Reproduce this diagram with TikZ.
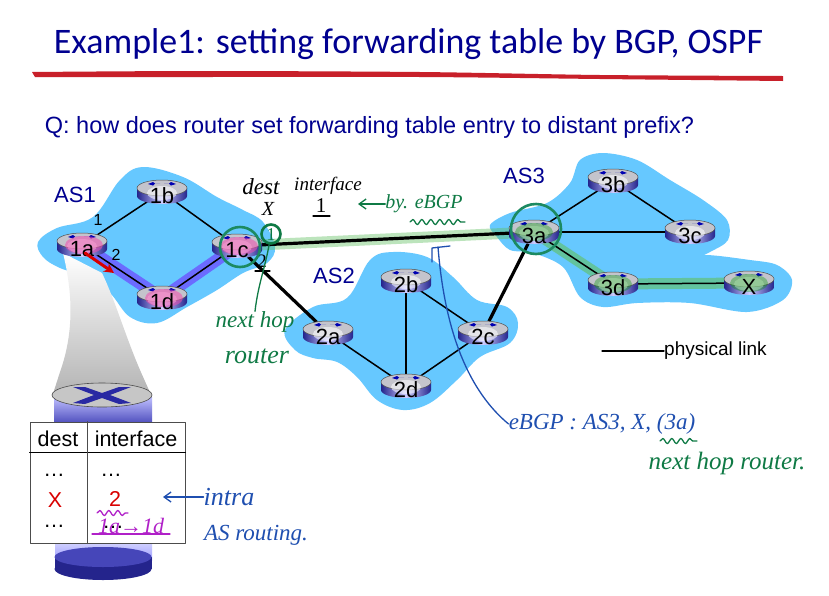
\documentclass[tikz,border=0pt]{standalone}
\usepackage{fontspec}
\setmainfont{Liberation Sans}
\newfontfamily\titlefont{Carlito}
\newfontfamily\handfont{Liberation Serif}
\usetikzlibrary{shapes.geometric,decorations.pathmorphing,arrows.meta}
\definecolor{navy}{HTML}{000090}
\definecolor{asblue}{HTML}{66C8FF}
\definecolor{hgreen}{HTML}{0F7A45}
\definecolor{hblue}{HTML}{1F4FB0}
\definecolor{hpurple}{HTML}{B020C8}
\definecolor{rdark}{HTML}{24248C}
\definecolor{ringgreen}{HTML}{1C8A62}
\definecolor{routegreen}{HTML}{60C060}
\definecolor{swoosh}{HTML}{C8202A}
\definecolor{rtop}{HTML}{C4C4CC}
\newcommand{\fs}[1]{\fontsize{#1}{#1}\selectfont}
\tikzset{
  rhit/.style={ellipse,minimum width=50pt,minimum height=24pt,inner sep=0pt},
  rlabel/.style={inner sep=0pt,font=\fs{22}},
  aslabel/.style={inner sep=0pt,text=navy,font=\fs{22}},
  thinlink/.style={draw=black,line width=1.5pt},
  thicklink/.style={draw=black,line width=3.2pt},
  hlgreen/.style={draw=routegreen,line width=11pt,draw opacity=.42},
  hlpurple/.style={draw=blue!58!white,line width=12pt},
  hand/.style={inner sep=0pt,font=\handfont\itshape\fs{23}},
  small/.style={inner sep=0pt,font=\fs{16}},
  cell/.style={inner sep=0pt,font=\fs{21.5}},
  squig/.style={decorate,decoration={snake,amplitude=2.5pt,segment length=9pt},line width=1.3pt},
  ring/.style={draw=ringgreen,line width=2.6pt},
  harrow/.style={line width=1.3pt,-{Straight Barb[length=7pt,width=10pt]}},
}
\newcommand{\rdef}[3]{\node[rhit] (#1) at (#2,#3) {};}
\newcommand{\rart}[3]{%
  \begin{scope}[shift={(#1.center)}]
    \shade[left color=rdark,right color=rdark,middle color=white!80!blue]
      (-25,-4) -- (-25,4) .. controls (-25,8.4) and (-13.8,12) .. (0,12) .. controls (13.8,12) and (25,8.4) .. (25,4) -- (25,-4) -- cycle;
    \fill[rtop,draw=gray!60!black,line width=.5pt] (0,-4) ellipse [x radius=25,y radius=8];
    \fill[white,opacity=.55] (0,1) ellipse [x radius=15,y radius=7];
    \fill[blue!70!black] (-14,-8) -- (-9,-10) -- (-7,-8.5) -- (-2,-8.5) -- (-7,-8.5) -- (-9,-6.5) -- cycle;
    \fill[blue!70!black] (14,-8) -- (9,-10) -- (7,-8.5) -- (2,-8.5) -- (7,-8.5) -- (9,-6.5) -- cycle;
    \if#3n\else
      \if#3m\fill[magenta!70!white,opacity=.55] (2,0) ellipse [x radius=19,y radius=9];\fi
      \if#3g\fill[green!60!black,opacity=.35] (0,0) ellipse [x radius=19,y radius=9];\fi
    \fi
    \node[rlabel] (#1-t) at (0,4) {#2};
  \end{scope}}
\begin{document}
\begin{tikzpicture}[x=1pt,y=-1pt,line cap=round,line join=round]
\useasboundingbox (0,0) rectangle (829,595);
\fill[white] (0,0) rectangle (829,595);

\rdef{1a}{82}{245}\rdef{1b}{162}{192}\rdef{1c}{237}{246}\rdef{1d}{162}{298}
\rdef{2a}{328}{333}\rdef{2b}{406}{281}\rdef{2c}{483}{333}\rdef{2d}{406}{386}
\rdef{3a}{534}{232}\rdef{3b}{613}{181}\rdef{3c}{690}{232}\rdef{3d}{613}{284}\rdef{X}{749}{283}

% title
\node[inner sep=0pt,text=navy,font=\titlefont\fs{35.9}] (title) at (408.5,44) {Example1: setting forwarding table by BGP, OSPF};
\fill[swoosh] plot[smooth] coordinates {(32,72) (200,71) (420,72) (600,75) (783,76)} -- plot[smooth] coordinates {(783,81) (600,79) (420,77) (200,77) (35,77)} -- cycle;
\node[inner sep=0pt,text=navy,font=\fs{23.5}] (q) at (369.5,127.5) {Q: how does router set forwarding table entry to distant prefix?};

% autonomous systems
\fill[asblue] plot[smooth cycle,tension=.6] coordinates {(38,242) (57,228) (93,217) (120,180) (143,167) (183,177) (217,197) (243,210) (263,222) (275,247) (267,263) (243,273) (217,290) (187,307) (157,323) (130,317) (110,293) (87,277) (60,268) (43,257)};
\fill[asblue] plot[smooth cycle,tension=.6] coordinates {(285,330) (313,307) (347,298) (370,260) (393,252) (427,257) (453,277) (477,300) (507,307) (518,323) (510,343) (480,357) (457,380) (430,403) (403,410) (377,400) (357,377) (337,362) (313,358) (295,350)};
\fill[asblue] plot[smooth cycle,tension=.55] coordinates {(490,225) (510,213) (547,203) (570,183) (580,160) (603,153) (637,160) (670,180) (703,200) (727,220) (728,240) (710,252) (687,263) (703,255) (750,260) (777,265) (792,280) (783,300) (747,312) (690,303) (637,303) (603,307) (580,297) (563,267) (533,253) (510,250) (497,237)};

% funnel
\shade[top color=white,bottom color=gray!60] (63,253) .. controls (72,290) and (75,330) .. (60,372) -- (52,397) -- (152,397) -- (140,370) .. controls (125,335) and (115,300) .. (102,273) -- cycle;

% highlighted routes
\draw[hlpurple] (1a.center) -- (1d.center) -- (1c.center);
\draw[hlgreen] (1c.center) -- (3a.center);
\draw[hlgreen,draw opacity=.6] (3a.center) -- (3d.center) -- (X.center);

% links
\draw[thinlink] (1a) -- (1b);
\draw[thinlink] (1b) -- (1c);
\draw[thinlink] (1a) -- (1d);
\draw[thinlink] (1d) -- (1c);
\draw[thicklink] (1c) -- (2a);
\draw[thicklink] (1c) -- (3a);
\draw[thicklink] (2c) -- (3a);
\draw[thinlink] (2a) -- (2d);
\draw[thinlink] (2b) -- (2d);
\draw[thinlink] (2b) -- (2c);
\draw[thinlink] (2c) -- (2d);
\draw[thinlink] (3a) -- (3b);
\draw[thinlink] (3a) -- (3c);
\draw[thinlink] (3a) -- (3d);
\draw[thinlink] (3b) -- (3c);
\draw[thinlink] (3d) -- (X);

% routers
\rart{1a}{1a}{m}\rart{1b}{1b}{n}\rart{1c}{1c}{m}\rart{1d}{1d}{m}
\rart{2a}{2a}{n}\rart{2b}{2b}{n}\rart{2c}{2c}{n}\rart{2d}{2d}{n}
\rart{3a}{3a}{g}\rart{3b}{3b}{n}\rart{3c}{3c}{n}\rart{3d}{3d}{g}\rart{X}{X}{g}

% labels
\node[aslabel] (as1) at (75,195) {AS1};
\node[aslabel] (as2) at (334,276) {AS2};
\node[aslabel] (as3) at (524,176) {AS3};
\node[small] (if1) at (98,220) {1};
\node[small] (if2) at (116,255) {2};

% red arrow
\coordinate (ra0) at (85,253);
\coordinate (ra1) at (114,273);
\draw[red!85!black,line width=3pt,-{Stealth[length=10pt,width=10pt]}] (ra0) -- (ra1);

% physical link legend
\coordinate (pl) at (602,351);
\node[inner sep=0pt,anchor=west,font=\fs{19}] (plt) at (664,351) {physical link};
\draw[line width=1.3pt] (pl) -- (plt);

% big router
\shade[top color=blue!25!white,bottom color=blue!45!gray] (54,397) rectangle (152,425);
\fill[gray!45,draw=black!70,line width=.6pt] (102,395) ellipse [x radius=50,y radius=12];
\fill[blue!60!gray!80!black] (73,387) -- (85,387) -- (102,393) -- (119,387) -- (131,387) -- (110,395) -- (131,403) -- (119,404) -- (102,398) -- (85,404) -- (73,403) -- (94,395) -- cycle;
\shade[top color=blue!15!white,bottom color=blue!38!white] (55,540) rectangle (152,560);
\fill[rdark] (55,557) rectangle (152,569);
\fill[rdark] (103,569) ellipse [x radius=48.5,y radius=11];
\fill[blue!45!gray] (103,557) ellipse [x radius=48.5,y radius=10];

% table
\node[draw=black!70,line width=1pt,fill=white,minimum width=155pt,minimum height=121pt,inner sep=0pt] (tbl) at (107.5,482.5) {};
\coordinate (hl) at (tbl.west |- 0,452);
\coordinate (hr) at (tbl.east |- 0,452);
\coordinate (vt) at (87,0 |- tbl.north);
\coordinate (vb) at (87,0 |- tbl.south);
\draw[line width=1pt] (hl) -- (hr);
\draw[black!70,line width=1pt] (vt) -- (vb);
\node[cell] (td) at (58,439) {dest};
\node[cell] (ti) at (136,439) {interface};
\node[cell] (d1) at (54,475) {…};
\node[cell] (i1) at (111,475) {…};
\node[cell,text=red!85!black] (dx) at (55,500) {X};
\node[cell,text=red!85!black] (i2) at (115,499) {2};
\node[cell] (d2) at (54,526) {…};
\node[cell] (i3) at (113,527) {…};

% handwritten notes
\begin{scope}[every node/.append style={hand}]
\node (hdest) at (261,187) {dest};
\node[font=\handfont\itshape\fs{20}] (hx) at (268,209) {X};
\node[font=\handfont\itshape\fs{19}] (hint) at (328,186) {interface};
\node[font=\handfont\fs{21}] (h1) at (321,206) {1};
\node[font=\handfont\fs{18},text=hgreen] (hc1) at (271,235) {1};
\node[font=\handfont\fs{19}] (h2) at (262,261) {2};
\node[text=hgreen] (hnh) at (255,322) {next hop};
\node[text=hgreen,font=\handfont\itshape\fs{26}] (hrt) at (257,356) {router};
\node[text=hgreen,font=\handfont\itshape\fs{20}] (hby) at (424,204) {by. eBGP};
\node[text=hblue,font=\handfont\itshape\fs{23}] (hbgp) at (602,424) {eBGP : AS3, X, (3a)};
\node[text=hgreen,font=\handfont\itshape\fs{25}] (hnr) at (727,463) {next hop router.};
\node[text=hblue,font=\handfont\itshape\fs{26}] (hin) at (229,497) {intra};
\node[text=hblue,font=\handfont\itshape\fs{23}] (has) at (256,535) {AS routing.};
\node[text=hpurple,font=\handfont\itshape\fs{22}] (hpd) at (131,526) {1a→1d};
\end{scope}
\draw[black,line width=1.2pt] (313,216) -- (330,216);
\draw[black,line width=1.2pt] (255,271) -- (270,271);
\draw[hpurple,line width=1.2pt] (92,534) -- (170,534);
\draw[hpurple,squig] (97,513) -- (128,513);
\draw[hgreen,squig] (410,222) -- (465,222);
\draw[hgreen,squig] (660,441) -- (697,441);

% circles
\node[ring,circle,minimum size=40pt,inner sep=0pt] (c1c) at (240,247) {};
\node[ring,circle,minimum size=19pt,inner sep=0pt,draw=hgreen] (c1) at (271,234) {};
\node[ring,circle,minimum size=50pt,inner sep=0pt] (c3a) at (536,229) {};

% pointers
\draw[hgreen,line width=1.3pt] (c1) .. controls (265,268) and (258,285) .. (hnh.north);
\coordinate (byhead) at (358,204);
\draw[hgreen,harrow] (hby) -- (byhead);
\coordinate (inhead) at (163,497);
\draw[hblue,harrow] (hin) -- (inhead);
\coordinate (bt) at (438,247);
\coordinate (bl) at (432,248);
\coordinate (br) at (450,246);
\coordinate (bb) at (432,262);
\draw[hblue,line width=1.3pt] (bb) -- (bl) -- (br);
\draw[hblue,line width=1.3pt] (hbgp.west) .. controls (470,392) and (445,335) .. (bt);
\end{tikzpicture}
\end{document}
